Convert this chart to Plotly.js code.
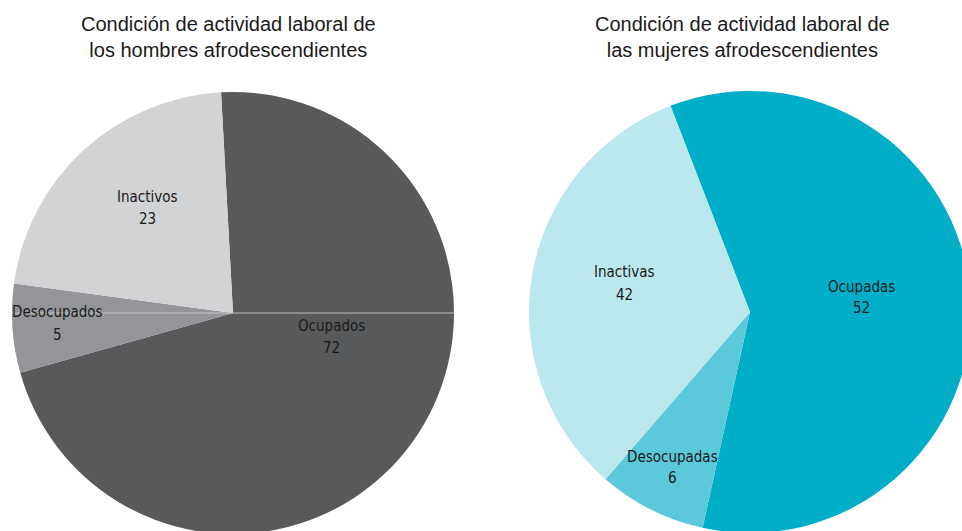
<!DOCTYPE html>
<html>
<head>
<meta charset="utf-8">
<script src="https://cdn.plot.ly/plotly-3.0.1.min.js"></script>
<style>
  html, body { margin: 0; padding: 0; overflow: hidden; background: #ffffff; }
  #chart { width: 980px; height: 540px; }
</style>
</head>
<body>
<div id="chart"></div>
<script>
// ---- Data ----
const menCategories = ['Ocupados', 'Desocupados', 'Inactivos'];
const menLabelValues = [72, 5, 23];          // numbers printed on the chart
const menSliceShares = [71.5, 6.5, 22.0];    // slice sizes as drawn in the picture
const menColors = ['#58595b', '#939598', '#d1d3d4'];

const womenCategories = ['Ocupadas', 'Desocupadas', 'Inactivas'];
const womenLabelValues = [52, 6, 42];        // numbers printed on the chart
const womenSliceShares = [59.3, 7.9, 32.8];  // slice sizes as drawn in the picture
const womenColors = ['#00afc7', '#5bc9d9', '#bbe8ee'];

const titles = [
  'Condición de actividad laboral de<br>los hombres afrodescendientes',
  'Condición de actividad laboral de<br>las mujeres afrodescendientes'
];

// ---- Layout helpers (pixel -> paper) ----
const W = 980, H = 540;
const px = x => x / W;
const py = y => 1 - y / H;

const labelFont = {family: '"Liberation Sans Narrow", "Arial Narrow", "DejaVu Sans Condensed", sans-serif', size: 15, color: '#1a1a1a'};
const titleFont = {family: '"Liberation Sans", Arial, sans-serif', size: 20, color: '#1a1a1a'};

// label positions: [x, yName, yNumber] in pixels
const menLabelPos = [[331, 326, 348], [57, 312, 335], [147, 197, 219]];
const womenLabelPos = [[861, 287, 308], [672, 457, 478], [624, 272, 295]];

const traces = [
  {
    type: 'pie',
    labels: menCategories,
    values: menSliceShares,
    sort: false,
    direction: 'clockwise',
    rotation: -3.1,
    marker: {colors: menColors, line: {width: 0}},
    textinfo: 'none',
    hoverinfo: 'label',
    showlegend: false,
    domain: {x: [px(12), px(454)], y: [py(534), py(92)]}
  },
  {
    type: 'pie',
    labels: womenCategories,
    values: womenSliceShares,
    sort: false,
    direction: 'clockwise',
    rotation: -21.1,
    marker: {colors: womenColors, line: {width: 0}},
    textinfo: 'none',
    hoverinfo: 'label',
    showlegend: false,
    domain: {x: [px(529), px(971)], y: [py(533), py(91)]}
  }
];

const annotations = [];
function addLabels(cats, vals, pos) {
  cats.forEach((c, i) => {
    annotations.push({
      xref: 'paper', yref: 'paper',
      x: px(pos[i][0]), y: py(pos[i][1]),
      xanchor: 'center', yanchor: 'middle',
      text: c, showarrow: false, font: labelFont
    });
    annotations.push({
      xref: 'paper', yref: 'paper',
      x: px(pos[i][0]), y: py(pos[i][2]),
      xanchor: 'center', yanchor: 'middle',
      text: String(vals[i]), showarrow: false, font: labelFont
    });
  });
}
addLabels(menCategories, menLabelValues, menLabelPos);
addLabels(womenCategories, womenLabelValues, womenLabelPos);

annotations.push({
  xref: 'paper', yref: 'paper', x: px(228), y: py(37),
  xanchor: 'center', yanchor: 'middle', text: titles[0],
  showarrow: false, font: titleFont, align: 'center'
});
annotations.push({
  xref: 'paper', yref: 'paper', x: px(742), y: py(37),
  xanchor: 'center', yanchor: 'middle', text: titles[1],
  showarrow: false, font: titleFont, align: 'center'
});

const layout = {
  width: W, height: H,
  margin: {l: 0, r: 0, t: 0, b: 0},
  paper_bgcolor: '#ffffff',
  showlegend: false,
  annotations: annotations,
  shapes: [{
    type: 'line', xref: 'paper', yref: 'paper',
    x0: px(12), x1: px(454), y0: py(313), y1: py(313),
    line: {color: '#c4c4c4', width: 1}
  }]
};

Plotly.newPlot('chart', traces, layout, {staticPlot: true, displayModeBar: false});
</script>
</body>
</html>
